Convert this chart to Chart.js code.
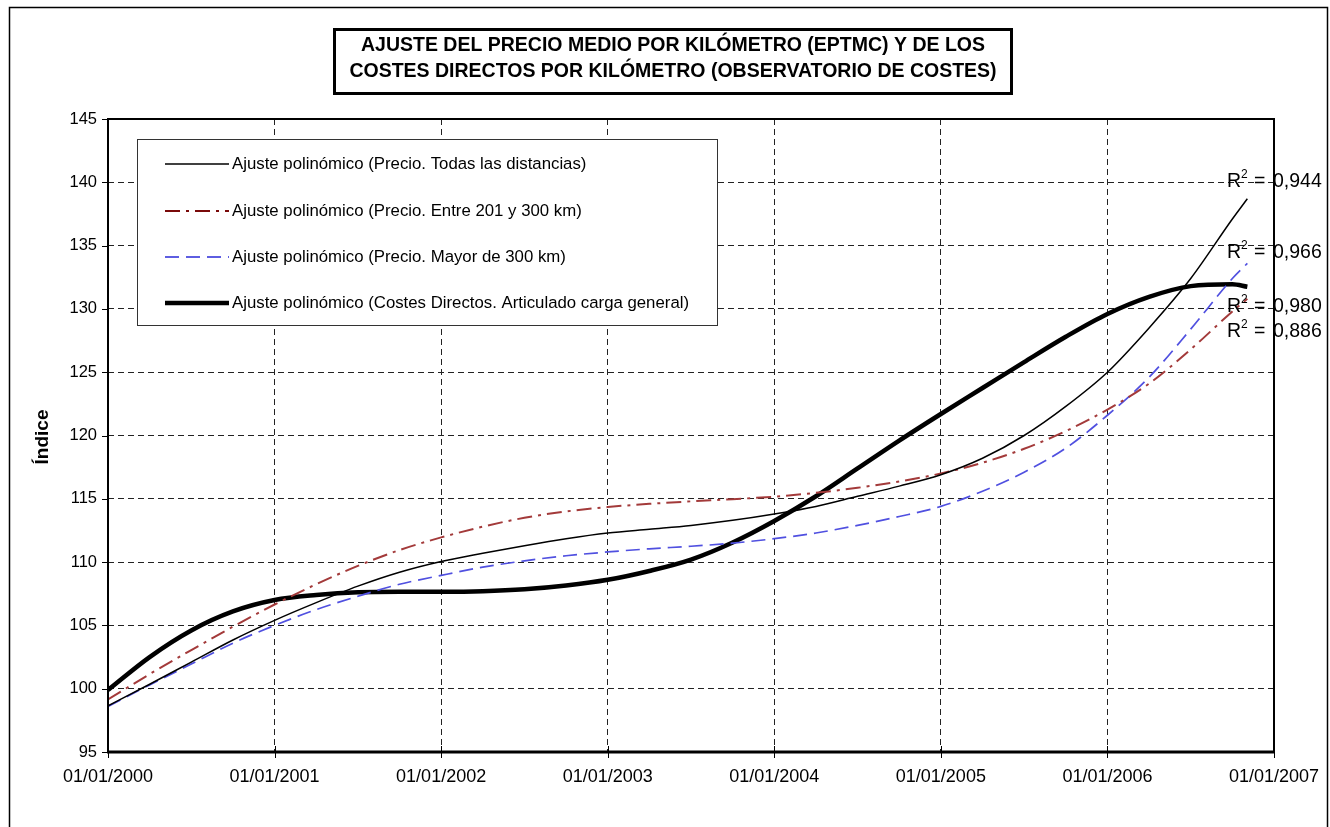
<!DOCTYPE html>
<html><head><meta charset="utf-8">
<script src="https://cdn.jsdelivr.net/npm/chart.js@4.4.0/dist/chart.umd.min.js"></script>
<style>html,body{margin:0;padding:0;background:#fff}canvas{display:block}</style>
</head><body><canvas id="c" width="1330" height="827"></canvas>
<script>
// ---- data ----
const years = [2000, 2000.25, 2000.5, 2000.75, 2001, 2001.25, 2001.5, 2001.75, 2002, 2002.25, 2002.5, 2002.75, 2003, 2003.25, 2003.5, 2003.75, 2004, 2004.25, 2004.5, 2004.75, 2005, 2005.25, 2005.5, 2005.75, 2006, 2006.25, 2006.5, 2006.75, 2006.84];
const todas  = [98.65, 100.35, 102.1, 103.85, 105.4, 106.8, 108.1, 109.2, 110.05, 110.7, 111.3, 111.85, 112.3, 112.6, 112.9, 113.3, 113.8, 114.4, 115.2, 116.0, 116.9, 118.2, 120.0, 122.3, 125.0, 128.5, 132.4, 137.1, 138.7];
const entre  = [99.15, 101.15, 103.05, 104.9, 106.65, 108.25, 109.7, 110.95, 111.95, 112.8, 113.5, 114.0, 114.35, 114.6, 114.8, 114.97, 115.17, 115.47, 115.87, 116.37, 117.0, 117.85, 118.95, 120.35, 122.05, 124.1, 126.8, 129.8, 130.8];
const mayor  = [98.6, 100.3, 101.95, 103.6, 105.0, 106.25, 107.3, 108.25, 108.95, 109.6, 110.1, 110.5, 110.8, 111.05, 111.25, 111.5, 111.85, 112.3, 112.9, 113.6, 114.4, 115.6, 117.1, 119.0, 121.6, 124.6, 128.4, 132.4, 133.6];
const costes = [99.9, 102.5, 104.6, 106.1, 107.0, 107.4, 107.62, 107.66, 107.66, 107.7, 107.85, 108.15, 108.6, 109.3, 110.2, 111.55, 113.25, 115.2, 117.4, 119.6, 121.7, 123.75, 125.8, 127.8, 129.6, 130.95, 131.8, 131.95, 131.75];
const seriesNames = [
  'Ajuste polinómico (Precio. Todas las distancias)',
  'Ajuste polinómico (Precio. Entre 201 y 300 km)',
  'Ajuste polinómico (Precio. Mayor de 300 km)',
  'Ajuste polinómico (Costes Directos. Articulado carga general)'
];
const tickYears  = [2000, 2001, 2002, 2003, 2004, 2005, 2006, 2007];
const tickLabels = ['01/01/2000', '01/01/2001', '01/01/2002', '01/01/2003', '01/01/2004', '01/01/2005', '01/01/2006', '01/01/2007'];
const r2Labels = ['0,944', '0,966', '0,980', '0,886'];
const r2Anchors = [140.2, 134.6, 130.3, 128.3];
const titleLines = ['AJUSTE DEL PRECIO MEDIO POR KILÓMETRO (EPTMC) Y DE LOS', 'COSTES DIRECTOS POR KILÓMETRO (OBSERVATORIO DE COSTES)'];
const yTitle = 'Índice';

const pts = arr => arr.map((v, i) => ({x: years[i], y: v}));
const FONT = '"Liberation Sans", Arial, Helvetica, sans-serif';

const deco = {
  id: 'deco',
  beforeDraw(chart) {
    const ctx = chart.ctx;
    ctx.save();
    ctx.fillStyle = '#fff';
    ctx.fillRect(0, 0, chart.width, chart.height);
    ctx.strokeStyle = '#000';
    ctx.lineWidth = 1.5;
    ctx.strokeRect(9.5, 7.5, 1318, 840);
    ctx.restore();
  },
  afterDraw(chart) {
    const ctx = chart.ctx;
    const a = chart.chartArea;
    const xs = chart.scales.x, ys = chart.scales.y;
    ctx.save();
    // plot frame
    ctx.strokeStyle = '#000';
    ctx.lineWidth = 2;
    ctx.strokeRect(a.left, a.top, a.right - a.left, a.bottom - a.top);
    ctx.lineWidth = 3;
    ctx.beginPath(); ctx.moveTo(a.left - 1, a.bottom); ctx.lineTo(a.right + 1, a.bottom); ctx.stroke();
    // tick marks
    ctx.lineWidth = 1;
    ys.ticks.forEach(t => {
      const y = Math.round(ys.getPixelForValue(t.value)) + 0.5;
      ctx.beginPath(); ctx.moveTo(a.left - 6, y); ctx.lineTo(a.left, y); ctx.stroke();
    });
    xs.ticks.forEach(t => {
      const x = Math.round(xs.getPixelForValue(t.value)) + 0.5;
      ctx.beginPath(); ctx.moveTo(x, a.bottom - 6); ctx.lineTo(x, a.bottom + 6); ctx.stroke();
    });
    // title box
    ctx.fillStyle = '#fff';
    ctx.fillRect(334, 29, 678, 65);
    ctx.lineWidth = 3;
    ctx.strokeRect(334.5, 29.5, 677, 64);
    ctx.fillStyle = '#000';
    ctx.font = 'bold 19.5px ' + FONT;
    ctx.textAlign = 'center';
    ctx.textBaseline = 'middle';
    ctx.fillText(titleLines[0], 673, 46);
    ctx.fillText(titleLines[1], 673, 72);
    // y title
    ctx.save();
    ctx.translate(43, 437);
    ctx.rotate(-Math.PI / 2);
    ctx.font = 'bold 19px ' + FONT;
    ctx.fillText(yTitle, 0, 0);
    ctx.restore();
    // legend
    ctx.fillStyle = '#fff';
    ctx.fillRect(137, 139, 581, 186);
    ctx.strokeStyle = '#333';
    ctx.lineWidth = 1;
    ctx.strokeRect(137.5, 139.5, 580, 186);
    const rows = [164, 211, 257, 303];
    chart.data.datasets.forEach((ds, i) => {
      const y = rows[i];
      ctx.save();
      ctx.strokeStyle = ds.legendColor || ds.borderColor;
      ctx.lineWidth = ds.borderWidth;
      ctx.setLineDash(ds.borderDash || []);
      ctx.beginPath(); ctx.moveTo(165, y); ctx.lineTo(229, y); ctx.stroke();
      ctx.restore();
      ctx.fillStyle = '#000';
      ctx.font = '16.8px ' + FONT;
      ctx.textAlign = 'left';
      ctx.textBaseline = 'middle';
      ctx.fillText(ds.label, 232, y);
    });
    // R2 labels
    ctx.fillStyle = '#000';
    ctx.textAlign = 'left';
    ctx.textBaseline = 'alphabetic';
    r2Labels.forEach((lab, i) => {
      const y = ys.getPixelForValue(r2Anchors[i]) + 7;
      ctx.font = '19.5px ' + FONT;
      ctx.fillText('R', 1227, y);
      ctx.font = '12px ' + FONT;
      ctx.fillText('2', 1241, y - 9);
      ctx.font = '19.5px ' + FONT;
      ctx.fillText('=', 1254, y);
      ctx.fillText(lab, 1273, y);
    });
    ctx.restore();
  }
};

new Chart(document.getElementById('c'), {
  type: 'line',
  data: {
    datasets: [
      {label: seriesNames[0], data: pts(todas), borderColor: '#000', borderWidth: 1.5},
      {label: seriesNames[1], data: pts(entre), borderColor: '#a33a3a', legendColor: '#7a0a0a', borderWidth: 2, borderDash: [15, 6, 3, 6]},
      {label: seriesNames[2], data: pts(mayor), borderColor: '#5050e0', legendColor: '#2a2ad8', borderWidth: 1.7, borderDash: [14, 7]},
      {label: seriesNames[3], data: pts(costes), borderColor: '#000', borderWidth: 4.5}
    ]
  },
  options: {
    responsive: false,
    devicePixelRatio: 1,
    animation: false,
    events: [],
    layout: {padding: {left: 0, top: 119, right: 56, bottom: 0}},
    elements: {point: {radius: 0}, line: {cubicInterpolationMode: 'monotone', fill: false}},
    plugins: {legend: {display: false}, tooltip: {enabled: false}, title: {display: false}},
    scales: {
      x: {
        type: 'linear', min: 2000, max: 2007,
        afterBuildTicks: s => { s.ticks = tickYears.map(v => ({value: v})); },
        afterFit: s => { s.height = 75; s.paddingLeft = 0; s.paddingRight = 0; },
        ticks: {
          padding: 14, maxRotation: 0, autoSkip: false, color: '#000',
          font: {family: FONT, size: 18},
          callback: (v) => tickLabels[tickYears.indexOf(v)]
        },
        grid: {color: '#222', lineWidth: 1, drawTicks: false},
        border: {display: false, dash: [6, 4]}
      },
      y: {
        min: 95, max: 145,
        afterFit: s => { s.width = 108; s.paddingTop = 0; s.paddingBottom = 0; },
        ticks: {stepSize: 5, padding: 11, color: '#000', font: {family: FONT, size: 16.5}},
        grid: {color: '#222', lineWidth: 1, drawTicks: false},
        border: {display: false, dash: [6, 4]}
      }
    }
  },
  plugins: [deco]
});
</script>
</body></html>
